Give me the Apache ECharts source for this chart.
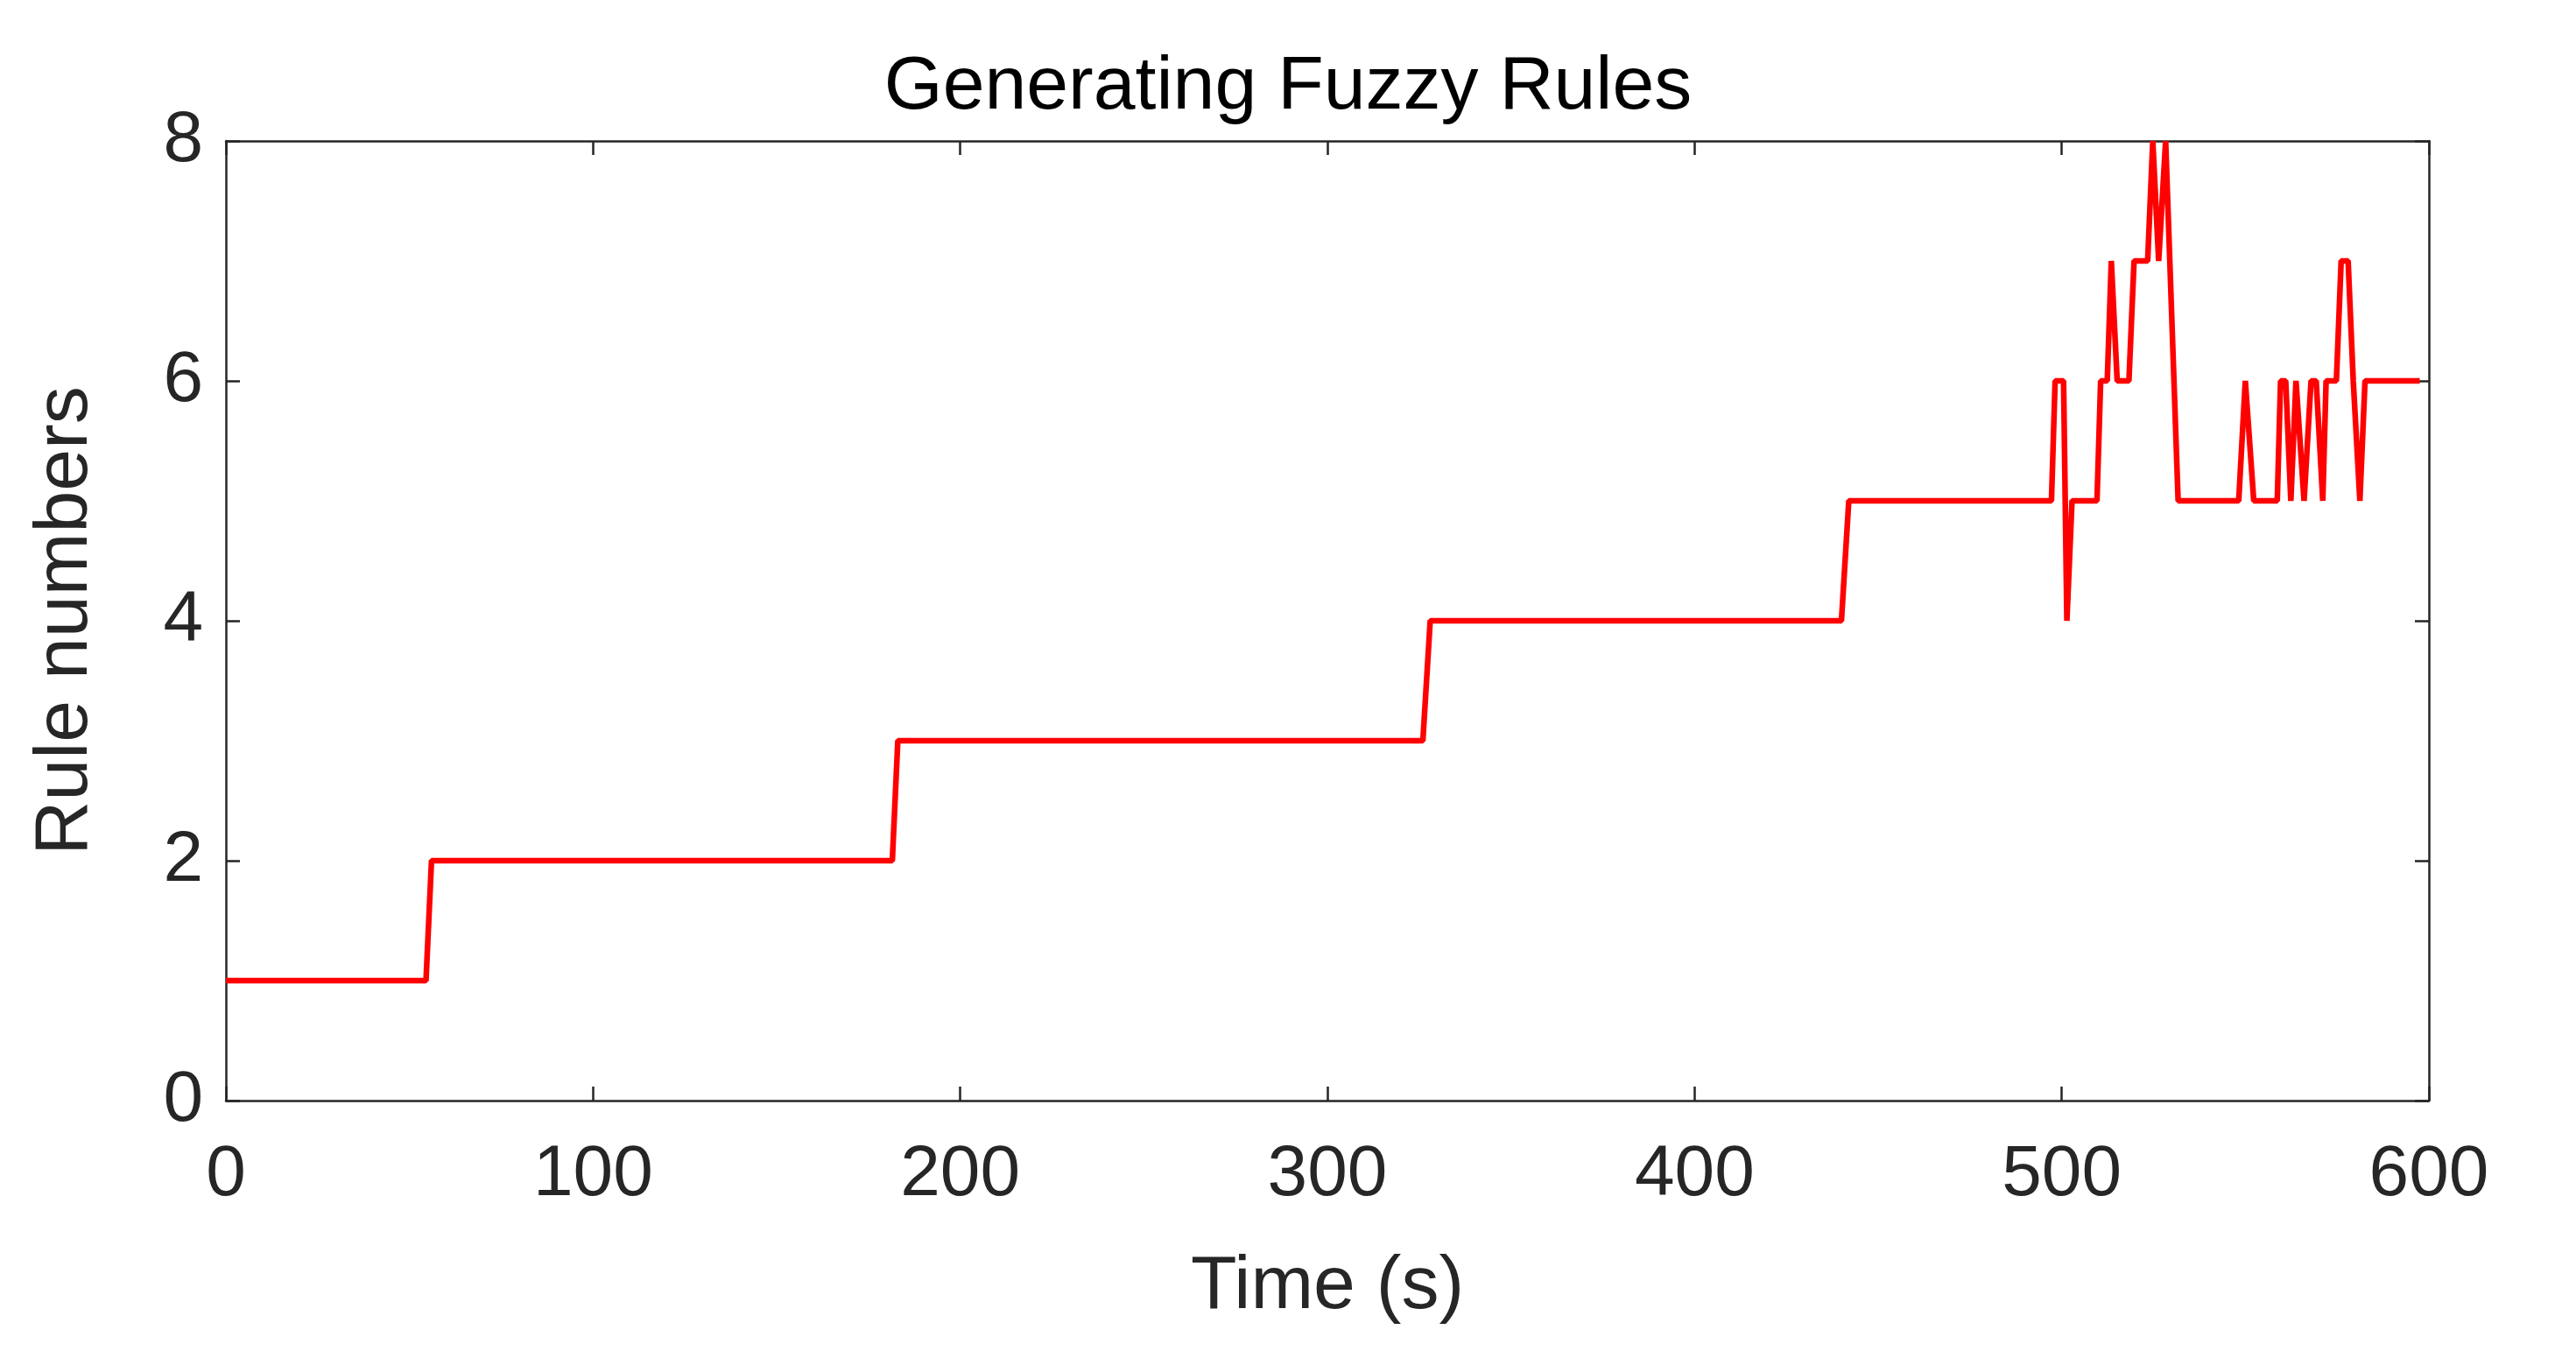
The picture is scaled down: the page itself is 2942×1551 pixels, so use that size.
<!DOCTYPE html>
<html><head><meta charset="utf-8">
<script src="https://cdn.jsdelivr.net/npm/echarts@6/dist/echarts.min.js"></script>
<style>html,body{margin:0;padding:0;background:#fff}#c{width:2942px;height:1551px}</style>
</head><body><div id="c"></div>
<script>
// time (s) and rule count
const timeS = [0, 54.5, 56, 181.5, 183, 326, 328, 440, 442, 497.2, 498.2, 500.5, 501.4, 502.8, 509.6, 510.6, 512.4, 513.5, 515.1, 518.3, 519.7, 523.4, 524.8, 526.4, 528.3, 531.7, 548.2, 550, 552.3, 558.7, 559.6, 561, 562.4, 563.8, 566, 567.9, 569.3, 571.1, 572, 574.8, 576.1, 578, 579.4, 581.2, 582.6, 597.5];
const rules = [1, 1, 2, 2, 3, 3, 4, 4, 5, 5, 6, 6, 4, 5, 5, 6, 6, 7, 6, 6, 7, 7, 8, 7, 8, 5, 5, 6, 5, 5, 6, 6, 5, 6, 5, 6, 6, 5, 6, 6, 7, 7, 6, 5, 6, 6];
const xTicks = [0, 100, 200, 300, 400, 500, 600];
const yTicks = [0, 2, 4, 6, 8];

const font = "Liberation Sans, Arial, sans-serif";
const ink = "#262626";
const chart = echarts.init(document.getElementById("c"), null, { renderer: "canvas" });
const axisCommon = {
  axisLine: { show: true, onZero: false, lineStyle: { color: ink, width: 2.5 } },
  axisTick: { show: true, inside: true, length: 16, lineStyle: { color: ink, width: 2.5 } },
  splitLine: { show: false }
};
chart.setOption({
  backgroundColor: "#fff",
  animation: false,
  title: { text: "Generating Fuzzy Rules", left: "center", top: 52,
    textStyle: { fontFamily: font, fontSize: 86, fontWeight: "normal", color: "#000" } },
  grid: { left: 258, right: 168, top: 161, bottom: 294 },
  xAxis: [
    Object.assign({ type: "value", min: 0, max: 600, interval: 100, position: "bottom",
      name: "Time (s)", nameLocation: "middle", nameGap: 170,
      nameTextStyle: { fontFamily: font, fontSize: 86, color: ink },
      axisLabel: { fontFamily: font, fontSize: 82, color: ink, margin: 44,
        formatter: v => xTicks.includes(v) ? String(v) : "" } }, axisCommon),
    Object.assign({ type: "value", min: 0, max: 600, interval: 100, position: "top",
      axisLabel: { show: false } }, axisCommon)
  ],
  yAxis: [
    Object.assign({ type: "value", min: 0, max: 8, interval: 2, position: "left",
      name: "Rule numbers", nameLocation: "middle", nameGap: 140,
      nameTextStyle: { fontFamily: font, fontSize: 86, color: ink },
      axisLabel: { fontFamily: font, fontSize: 82, color: ink, margin: 26,
        formatter: v => yTicks.includes(v) ? String(v) : "" } }, axisCommon),
    Object.assign({ type: "value", min: 0, max: 8, interval: 2, position: "right",
      axisLabel: { show: false } }, axisCommon)
  ],
  series: [{
    type: "line",
    data: timeS.map((t, i) => [t, rules[i]]),
    showSymbol: false,
    clip: false,
    lineStyle: { color: "#ff0000", width: 6.5 }
  }]
});
</script></body></html>
